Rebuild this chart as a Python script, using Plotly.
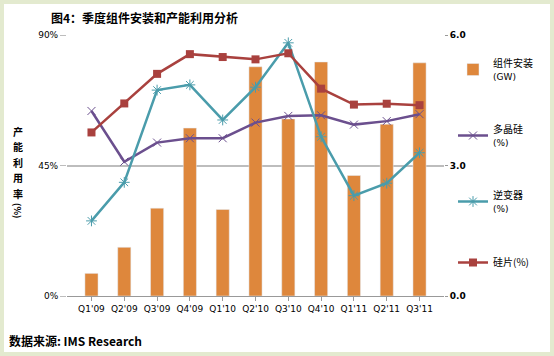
import plotly.graph_objects as go

categories = ["Q1'09", "Q2'09", "Q3'09", "Q4'09", "Q1'10", "Q2'10", "Q3'10", "Q4'10", "Q1'11", "Q2'11", "Q3'11"]
install_gw = [0.52, 1.12, 2.02, 3.86, 1.99, 5.27, 4.07, 5.38, 2.77, 3.95, 5.36]
polysilicon = [63.8, 46.3, 52.9, 54.4, 54.4, 59.8, 62.1, 62.3, 59.1, 60.3, 62.7]
inverter = [25.9, 39.2, 71.0, 72.8, 60.7, 72.0, 87.3, 54.9, 34.6, 38.9, 49.4]
wafer = [56.4, 66.4, 76.6, 83.4, 82.4, 81.6, 83.7, 71.5, 66.0, 66.3, 65.8]

left_ticks = [0, 45, 90]
left_tick_text = ["0%", "45%", "90%"]
right_ticks = [0, 3, 6]
right_tick_text = ["<b>0.0</b>", "<b>3.0</b>", "<b>6.0</b>"]
ytitle_chars = ["产", "能", "利", "用", "率"]

ORANGE = "#DE873C"
PURPLE = "#6B4F8E"
TEAL = "#4A9CAB"
RED = "#A9413E"
CJK = "Noto Sans CJK SC"
LAT = "<span style='font-family:DejaVu Sans;font-size:9px'>{}</span>"

fig = go.Figure()
fig.add_trace(go.Bar(x=categories, y=install_gw, name="组件安装<br>" + LAT.format("(GW)"),
                     marker_color=ORANGE, width=0.4, yaxis="y", legendgroup="a"))
fig.add_trace(go.Scatter(x=categories, y=polysilicon, name="多晶硅<br>" + LAT.format("(%)"),
                         mode="lines+markers", line=dict(color=PURPLE, width=2.5),
                         marker=dict(symbol="x-thin-open", size=8, line=dict(color=PURPLE, width=1)),
                         yaxis="y2", legendgroup="b"))
fig.add_trace(go.Scatter(x=categories, y=inverter, name="逆变器<br>" + LAT.format("(%)"),
                         mode="lines+markers", line=dict(color=TEAL, width=2.5),
                         marker=dict(symbol="asterisk-open", size=9, line=dict(color=TEAL, width=1)),
                         yaxis="y2", legendgroup="c"))
fig.add_trace(go.Scatter(x=categories, y=wafer, name="硅片(%)", mode="lines+markers",
                         line=dict(color=RED, width=2.5),
                         marker=dict(symbol="square", size=8, color=RED),
                         yaxis="y2", legendgroup="d"))

W, H = 554, 356
L, R, T, B = 67, 110, 35, 60
PW, PH = W - L - R, H - T - B


def px(x):
    return (x - L) / PW


def py(y):
    return (H - B - y) / PH


fig.update_layout(
    width=W, height=H,
    margin=dict(l=L, r=R, t=T, b=B, autoexpand=False),
    paper_bgcolor="white", plot_bgcolor="white",
    font=dict(family=CJK, size=10, color="#000"),
    showlegend=True,
    legend=dict(x=px(453), y=py(50), xanchor="left", yanchor="top", tracegroupgap=37,
                font=dict(family=CJK, size=10), itemwidth=30, bgcolor="rgba(0,0,0,0)"),
    xaxis=dict(showline=True, linecolor="#999", linewidth=1, ticks="outside", ticklen=4,
               tickcolor="#999", tickfont=dict(family="DejaVu Sans", size=9),
               showgrid=False, automargin=False),
    yaxis=dict(side="right", range=[0, 6], tickvals=right_ticks, ticktext=right_tick_text,
               showgrid=False, ticks="outside", ticklen=3, tickcolor="#999",
               tickfont=dict(family="DejaVu Sans", size=9), zeroline=False, automargin=False),
    yaxis2=dict(side="left", overlaying="y", range=[0, 90], tickvals=left_ticks,
                ticktext=left_tick_text, showgrid=True, gridcolor="#BDBDBD", gridwidth=1.5,
                ticks="outside", ticklen=6, tickcolor="#BDBDBD",
                tickfont=dict(family="DejaVu Sans", size=9), zeroline=False, automargin=False),
)

fig.add_annotation(text="<b>图4：季度组件安装和产能利用分析</b>", xref="paper", yref="paper",
                   x=px(49), y=py(18), xanchor="left", yanchor="middle", showarrow=False,
                   font=dict(family=CJK, size=12))
for i, ch in enumerate(ytitle_chars):
    fig.add_annotation(text="<b>" + ch + "</b>", xref="paper", yref="paper",
                       x=px(18), y=py(131 + i * 15.5), xanchor="center", yanchor="middle",
                       showarrow=False, font=dict(family=CJK, size=10))
fig.add_annotation(text="<b>(%)</b>", xref="paper", yref="paper", textangle=90,
                   x=px(18), y=py(210), xanchor="center", yanchor="middle", showarrow=False,
                   font=dict(family=CJK, size=9))
fig.add_annotation(text="<b>数据来源: IMS Research</b>", xref="paper", yref="paper",
                   x=px(7), y=py(340), xanchor="left", yanchor="middle", showarrow=False,
                   font=dict(family=CJK, size=12))

# light green frame
fig.add_shape(type="rect", xref="paper", yref="paper",
              x0=px(2), x1=px(W - 2), y0=py(H - 2), y1=py(2),
              line=dict(color="#E3EACF", width=4), fillcolor="rgba(0,0,0,0)")

fig.write_html("out.html", config={"displayModeBar": False},
               post_script="document.body.style.margin='0';document.body.style.overflow='hidden';")
